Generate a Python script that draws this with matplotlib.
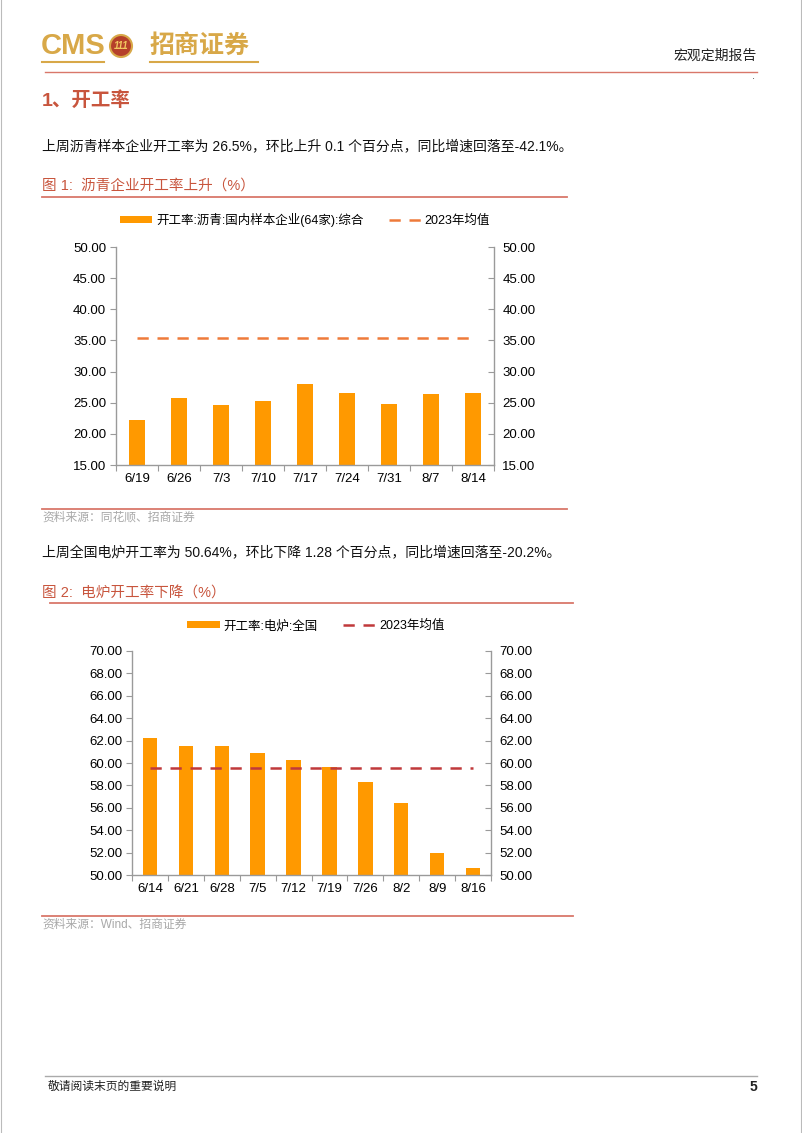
import matplotlib
matplotlib.use("Agg")
import matplotlib.pyplot as plt
from matplotlib.patches import Ellipse
from matplotlib.lines import Line2D

plt.rcParams['font.family'] = ['Liberation Sans', 'Noto Sans CJK SC', 'DejaVu Sans']

# chart 1 data: asphalt plant operating rate
dates_1 = ["6/19", "6/26", "7/3", "7/10", "7/17", "7/24", "7/31", "8/7", "8/14"]
rate_1 = [22.2, 25.7, 24.6, 25.2, 28.0, 26.5, 24.8, 26.4, 26.5]
avg_2023_1 = 35.4
ticks_1 = [15, 20, 25, 30, 35, 40, 45, 50]

# chart 2 data: electric furnace operating rate
dates_2 = ["6/14", "6/21", "6/28", "7/5", "7/12", "7/19", "7/26", "8/2", "8/9", "8/16"]
rate_2 = [62.2, 61.55, 61.55, 60.92, 60.27, 59.6, 58.33, 56.43, 51.92, 50.64]
avg_2023_2 = 59.52
ticks_2 = [50, 52, 54, 56, 58, 60, 62, 64, 66, 68, 70]

W, H = 802, 1133
BAR = "#FF9900"
TITLE_RED = "#C8553D"
GRAY = "#9A9A9A"

fig = plt.figure(figsize=(W / 100, H / 100), dpi=100)


def fx(x):
    return x / W


def fy(y):
    return 1 - y / H


def hline(x0, x1, y, color, lw=1.0):
    fig.add_artist(Line2D([fx(x0), fx(x1)], [fy(y), fy(y)], color=color, lw=lw,
                          transform=fig.transFigure))


def txt(x, y, s, **kw):
    fig.text(fx(x), fy(y), s, va="center", **kw)


# page border
fig.add_artist(Line2D([fx(0.5), fx(0.5)], [0, 1], color="#BBBBBB", lw=0.8, transform=fig.transFigure))
fig.add_artist(Line2D([fx(801), fx(801)], [0, 1], color="#BBBBBB", lw=0.8, transform=fig.transFigure))

# header / logo
GOLD = "#D8A848"
txt(41, 46, "CMS", fontsize=21, color=GOLD, weight="bold",
    family=["Liberation Sans Narrow", "Liberation Sans"])
fig.add_artist(Ellipse((fx(121), fy(46)), 22 / W, 22 / H, facecolor="#B5402A",
                       edgecolor=GOLD, lw=1.5, transform=fig.transFigure))
txt(121, 46, "111", fontsize=7, color="#F2C860", ha="center", style="italic", weight="bold")
txt(150, 46, "招商证券", fontsize=18, color=GOLD, weight="bold", family=["Noto Sans CJK SC"])
hline(42, 104, 62, GOLD, lw=1.5)
hline(150, 258, 62, GOLD, lw=1.5)
txt(757, 56, "宏观定期报告", fontsize=10, ha="right", color="#222222")
hline(45, 757, 72, "#D9776A", lw=1.0)
txt(752, 79, "·", fontsize=7, color="#333333")

# section title and text
txt(42, 101, "1、开工率", fontsize=14, color=TITLE_RED, weight="bold")
txt(42, 146, "上周沥青样本企业开工率为 26.5%，环比上升 0.1 个百分点，同比增速回落至-42.1%。",
    fontsize=10, color="#111111")
txt(42, 186, "图 1:  沥青企业开工率上升（%）", fontsize=10.5, color=TITLE_RED)
hline(42, 567, 197, "#D9776A", lw=1.3)

txt(42, 552, "上周全国电炉开工率为 50.64%，环比下降 1.28 个百分点，同比增速回落至-20.2%。",
    fontsize=10, color="#111111")
txt(42, 594, "图 2:  电炉开工率下降（%）", fontsize=10.5, color=TITLE_RED)
hline(50, 573, 603, "#D9776A", lw=1.3)


def bar_chart(box, dates, rates, avg, ticks, line_color, bar_label, legend_xy, colspace):
    left, top, right, bottom = box
    ax = fig.add_axes([fx(left), fy(bottom), fx(right) - fx(left), fy(top) - fy(bottom)])
    x = list(range(len(dates)))
    bars = ax.bar(x, rates, width=0.4, color=BAR, label=bar_label, zorder=2)
    line, = ax.plot(x, [avg] * len(x), color=line_color, lw=1.8,
                    linestyle=(0, (4.5, 3.5)), label="2023年均值", zorder=3)
    ax.set_xlim(-0.5, len(dates) - 0.5)
    ax.set_ylim(ticks[0], ticks[-1])
    ax.set_yticks(ticks)
    ax.set_yticklabels([f"{t:.2f}" for t in ticks])
    ax.set_xticks(x)
    ax.set_xticklabels(dates)
    ax.set_xticks([i - 0.5 for i in range(len(dates) + 1)], minor=True)
    ax.tick_params(axis="x", which="major", length=0, pad=6, labelsize=9.5)
    ax.tick_params(axis="x", which="minor", length=4, color=GRAY, width=0.8)
    ax.tick_params(axis="y", length=4, color=GRAY, width=0.8, labelsize=9.5, pad=3)
    for s in ["top", "right"]:
        ax.spines[s].set_visible(False)
    for s in ["left", "bottom"]:
        ax.spines[s].set_color(GRAY)
        ax.spines[s].set_linewidth(1.0)
    ax2 = ax.twinx()
    ax2.set_ylim(ticks[0], ticks[-1])
    ax2.set_yticks(ticks)
    ax2.set_yticklabels([f"{t:.2f}" for t in ticks])
    ax2.tick_params(axis="y", direction="in", length=4, color=GRAY, width=0.8,
                    labelsize=9.5, pad=6)
    for s in ["top", "left", "bottom"]:
        ax2.spines[s].set_visible(False)
    ax2.spines["right"].set_color(GRAY)
    ax2.spines["right"].set_linewidth(1.0)
    ax.legend(handles=[bars, line], loc="center",
              bbox_to_anchor=(fx(legend_xy[0]), fy(legend_xy[1])),
              bbox_transform=fig.transFigure, ncol=2, frameon=False, fontsize=9,
              handlelength=2.6, handleheight=0.5, handletextpad=0.3,
              columnspacing=colspace)
    return ax


bar_chart((116, 247, 494, 465), dates_1, rate_1, avg_2023_1, ticks_1, "#EE7A3A",
          "开工率:沥青:国内样本企业(64家):综合", (305, 220), 2.0)
hline(42, 567, 509, "#D9776A", lw=1.3)
txt(42, 518, "资料来源：同花顺、招商证券", fontsize=8.5, color="#A8A8A8")

bar_chart((132, 651, 491, 875), dates_2, rate_2, avg_2023_2, ticks_2, "#C0393B",
          "开工率:电炉:全国", (316, 626), 2.0)
hline(42, 573, 916, "#D9776A", lw=1.3)
txt(42, 925, "资料来源：Wind、招商证券", fontsize=8.5, color="#A8A8A8")

# footer
hline(45, 757, 1076, "#AAAAAA", lw=1.0)
txt(48, 1087, "敬请阅读末页的重要说明", fontsize=8.5, color="#222222")
txt(757, 1087, "5", fontsize=10, weight="bold", ha="right", color="#222222")

fig.savefig("out.png", dpi=100)
